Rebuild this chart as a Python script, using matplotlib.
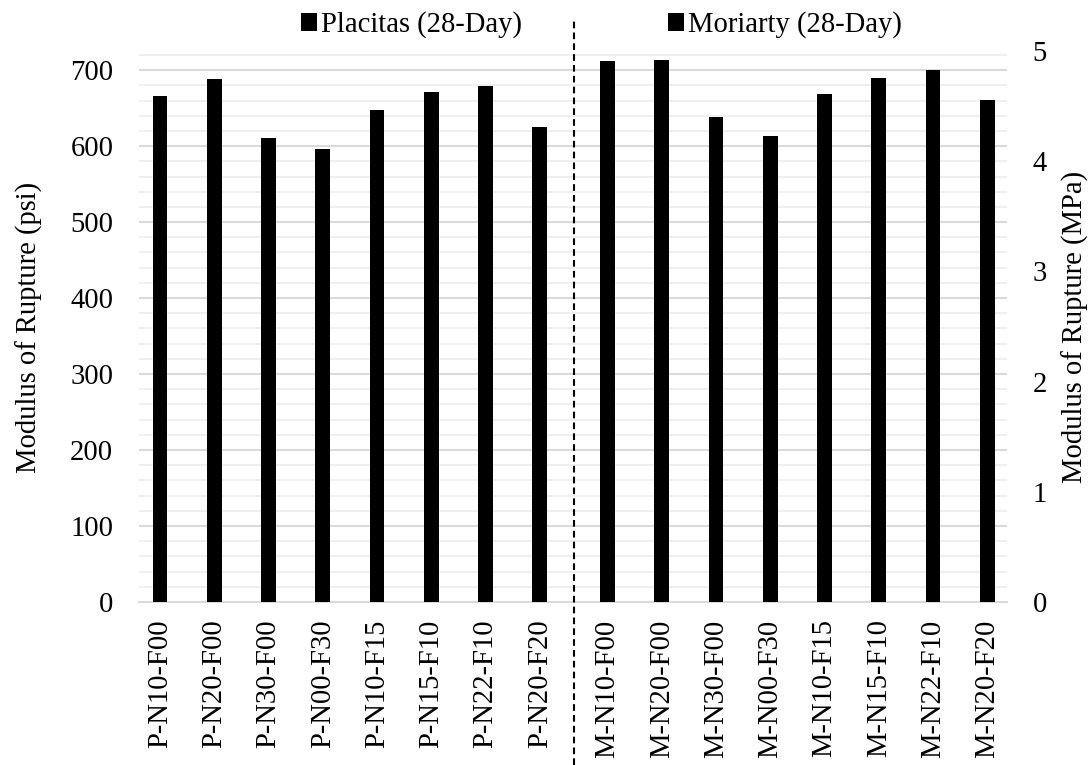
import matplotlib
matplotlib.use("Agg")
import matplotlib.pyplot as plt
import numpy as np
from matplotlib.ticker import MultipleLocator
from matplotlib.transforms import blended_transform_factory

plt.rcParams['font.family'] = ['Liberation Serif', 'DejaVu Serif']

placitas_labels = ["P-N10-F00", "P-N20-F00", "P-N30-F00", "P-N00-F30",
                   "P-N10-F15", "P-N15-F10", "P-N22-F10", "P-N20-F20"]
moriarty_labels = ["M-N10-F00", "M-N20-F00", "M-N30-F00", "M-N00-F30",
                   "M-N10-F15", "M-N15-F10", "M-N22-F10", "M-N20-F20"]
placitas_psi = [666, 688, 611, 596, 648, 671, 679, 625]
moriarty_psi = [712, 714, 638, 613, 668, 689, 700, 661]
legend_labels = ["Placitas (28-Day)", "Moriarty (28-Day)"]
psi_ticks = [0, 100, 200, 300, 400, 500, 600, 700]
mpa_ticks = [0, 1, 2, 3, 4, 5]
PSI_PER_MPA = 145.038

FS = 20.6
fig = plt.figure(figsize=(10.89, 7.65), dpi=100)
ax = fig.add_axes([139/1089, 163/765, 868/1089, 551/765])

group_gap = 1.25
xp = np.arange(len(placitas_psi))
xm = np.arange(len(moriarty_psi)) + len(placitas_psi) - 1 + group_gap
bw = 0.27

ax.set_ylim(0, 5 * PSI_PER_MPA)
ax.set_xlim(-0.387, xm[-1] + 0.363)

ax.yaxis.set_major_locator(MultipleLocator(100))
ax.yaxis.set_minor_locator(MultipleLocator(20))
ax.grid(axis='y', which='major', color='#d9d9d9', linewidth=1.4, zorder=0)
ax.grid(axis='y', which='minor', color='#efefef', linewidth=1.4, zorder=0)
ax.set_axisbelow(True)

b1 = ax.bar(xp, placitas_psi, width=bw, color='black', zorder=3, label=legend_labels[0])
b2 = ax.bar(xm, moriarty_psi, width=bw, color='black', zorder=3, label=legend_labels[1])

ax.set_yticks(psi_ticks)
ax.set_xticks(list(xp) + list(xm))
ax.set_xticklabels(placitas_labels + moriarty_labels, rotation=90)
ax.tick_params(axis='y', which='both', length=0, labelsize=FS, pad=18.5)
ax.tick_params(axis='x', length=0, labelsize=FS, pad=12.5)
for s in ['top', 'right', 'left']:
    ax.spines[s].set_visible(False)
ax.spines['bottom'].set_color('#d9d9d9')
ax.spines['bottom'].set_linewidth(1.4)

ax2 = ax.twinx()
ax2.set_ylim(0, 5)
ax2.set_yticks(mpa_ticks)
ax2.tick_params(axis='y', length=0, labelsize=FS, pad=18.5)
for s in ax2.spines.values():
    s.set_visible(False)

fig.text(29/1089, 1 - 327/765, "Modulus of Rupture (psi)", rotation=90,
         ha='center', va='center', fontsize=FS)
fig.text(1075/1089, 1 - 327/765, "Modulus of Rupture (MPa)", rotation=90,
         ha='center', va='center', fontsize=FS)

# separator dashed line between groups
sep_x = (xp[-1] + xm[0]) / 2
trans = blended_transform_factory(ax.transData, fig.transFigure)
ax.plot([sep_x, sep_x], [0, 1 - 20/765], transform=trans, color='black',
        linewidth=1.5, linestyle=(0, (3.2, 2.0)), clip_on=False, zorder=5)

fig.legend(handles=[b1, b2], labels=legend_labels, loc='center left',
           bbox_to_anchor=(301/1089, 1 - 25/765), ncol=2, frameon=False,
           fontsize=FS, handlelength=0.55, handleheight=0.55,
           handletextpad=0.15, columnspacing=5.1, borderpad=0, borderaxespad=0)

fig.savefig("out.png", dpi=100)
